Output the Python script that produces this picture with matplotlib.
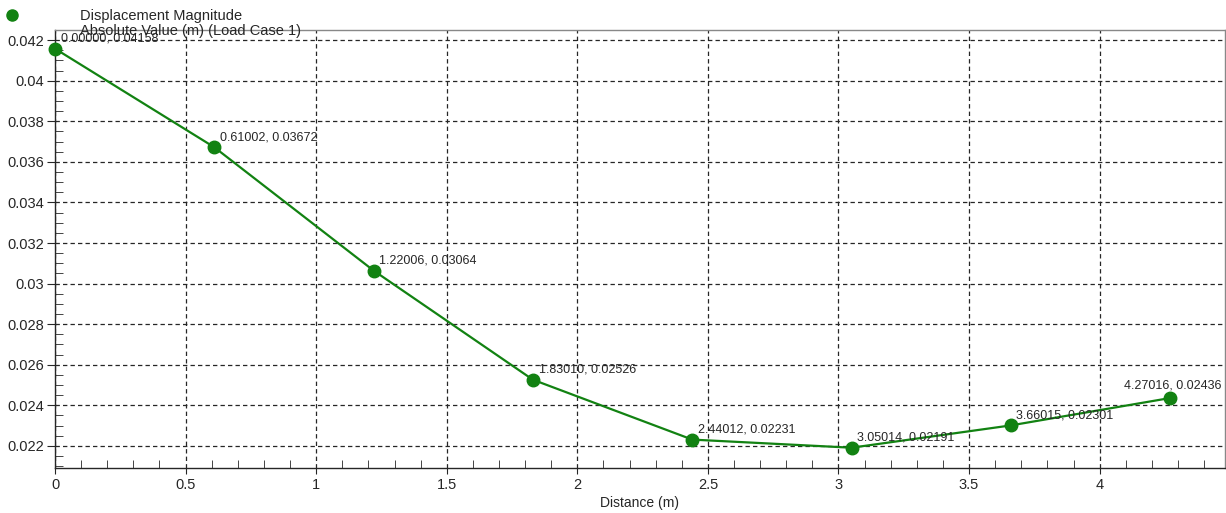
import matplotlib
matplotlib.use("Agg")
import matplotlib.pyplot as plt
from matplotlib.ticker import MultipleLocator, FuncFormatter
from matplotlib.lines import Line2D

plt.rcParams['font.family'] = ['Liberation Sans', 'DejaVu Sans']

distance = [0.00000, 0.61002, 1.22006, 1.83010, 2.44012, 3.05014, 3.66015, 4.27016]
displacement = [0.04158, 0.03672, 0.03064, 0.02526, 0.02231, 0.02191, 0.02301, 0.02436]
legend_label = "Displacement Magnitude\nAbsolute Value (m) (Load Case 1)"
x_label = "Distance (m)"

green = "#128212"
txt = "#262626"

fig = plt.figure(figsize=(12.26, 5.13), dpi=100)
ax = fig.add_axes([55/1226, 1 - 468/513, (1225 - 55)/1226, (468 - 30)/513])

ax.plot(distance, displacement, color=green, lw=1.6, marker='o', ms=9,
        markerfacecolor=green, markeredgecolor=green, zorder=3, clip_on=False)

for i, (x, y) in enumerate(zip(distance, displacement)):
    label = f"{x:.5f}, {y:.5f}"
    if i == len(distance) - 1:
        off = (-33, 5)
    else:
        off = (4, 3)
    ax.annotate(label, (x, y), xytext=off, textcoords='offset points',
                fontsize=9, color=txt, ha='left', va='bottom', zorder=4)

ax.set_xlim(0, 4.48)
ax.set_ylim(0.02091, 0.0425)

ax.xaxis.set_major_locator(MultipleLocator(0.5))
ax.xaxis.set_minor_locator(MultipleLocator(0.1))
ax.yaxis.set_major_locator(MultipleLocator(0.002))
ax.yaxis.set_minor_locator(MultipleLocator(0.0005))

ax.xaxis.set_major_formatter(FuncFormatter(lambda v, p: f"{v:g}"))
ax.yaxis.set_major_formatter(FuncFormatter(lambda v, p: f"{round(v, 4):g}"))

ax.tick_params(axis='x', which='major', direction='out', length=4, labelsize=10.5,
               colors=txt, pad=3)
ax.tick_params(axis='x', which='minor', direction='in', length=6, color=txt)
ax.tick_params(axis='y', which='major', direction='out', length=6, labelsize=10.5,
               colors=txt, pad=2)
ax.tick_params(axis='y', which='minor', direction='in', length=6, color=txt)

ax.grid(True, which='major', linestyle=(0, (3.5, 2.5)), color=txt, lw=0.9)

for s in ['top', 'right']:
    ax.spines[s].set_color('#888888')
    ax.spines[s].set_linewidth(1.0)
for s in ['left', 'bottom']:
    ax.spines[s].set_color(txt)
    ax.spines[s].set_linewidth(1.0)

ax.set_xlabel(x_label, fontsize=10, color=txt, labelpad=3)

# legend (marker + two-line label), positioned as in the reference
fig.add_artist(Line2D([12/1226], [1 - 15/513], transform=fig.transFigure,
                      marker='o', ms=8, color=green, linestyle='none'))
fig.text(80/1226, 1 - 23.5/513, legend_label, fontsize=10.5, color=txt,
         ha='left', va='center', linespacing=1.12, zorder=5)

fig.savefig("out.png", dpi=100)
